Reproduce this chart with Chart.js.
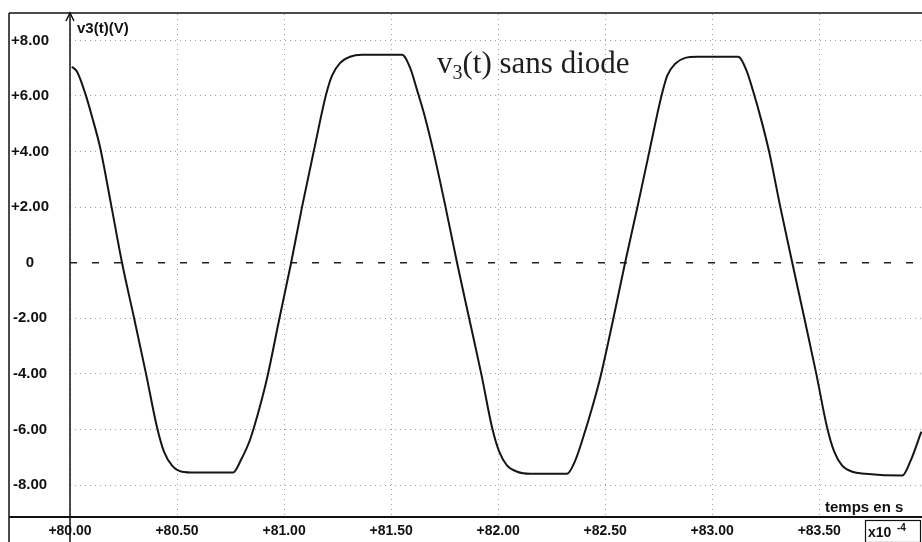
<!DOCTYPE html>
<html><head><meta charset="utf-8">
<script src="https://cdn.jsdelivr.net/npm/chart.js@4/dist/chart.umd.min.js"></script>
<style>html,body{margin:0;padding:0;background:#fff;overflow:hidden}</style>
</head><body>
<canvas id="c" width="922" height="542"></canvas>
<script>
// time in units of 1e-4 s
const timeValues = [
  80.009, 80.033, 80.070, 80.107, 80.140, 80.192, 80.243, 80.299, 80.355, 80.407, 80.439, 80.477, 80.523, 80.584, 80.762,
  80.799, 80.841, 80.883, 80.921, 80.977, 81.033, 81.084, 81.140, 81.196, 81.224, 81.262, 81.308, 81.364, 81.551,
  81.589, 81.621, 81.659, 81.696, 81.752, 81.808, 81.864, 81.921, 81.972, 82.005, 82.042, 82.089, 82.150, 82.322,
  82.360, 82.397, 82.439, 82.477, 82.537, 82.593, 82.650, 82.706, 82.762, 82.790, 82.827, 82.874, 82.930, 83.121,
  83.159, 83.192, 83.229, 83.266, 83.318, 83.374, 83.430, 83.486, 83.537, 83.570, 83.607, 83.654, 83.715, 83.888,
  83.925, 83.977
];
// v3(t) in volts
const voltValues = [
  7.05, 6.87, 6.12, 5.14, 4.17, 2.09, 0, -1.98, -3.99, -5.94, -6.80, -7.30, -7.52, -7.55, -7.55,
  -7.09, -6.37, -5.29, -4.14, -2.05, 0, 2.01, 4.06, 6.04, 6.73, 7.19, 7.41, 7.48, 7.48,
  7.01, 6.22, 5.22, 4.06, 2.09, 0, -1.98, -3.99, -5.94, -6.80, -7.30, -7.52, -7.59, -7.59,
  -7.12, -6.29, -5.22, -4.14, -2.05, 0, 1.98, 3.99, 5.97, 6.73, 7.16, 7.37, 7.41, 7.41,
  6.94, 6.15, 5.14, 3.99, 2.01, 0, -1.98, -3.99, -5.94, -6.80, -7.30, -7.52, -7.59, -7.66,
  -7.16, -6.08
];

const xTickValues = [80, 80.5, 81, 81.5, 82, 82.5, 83, 83.5];
const xTickLabels = ['+80.00', '+80.50', '+81.00', '+81.50', '+82.00', '+82.50', '+83.00', '+83.50'];
const yTickValues = [-8, -6, -4, -2, 0, 2, 4, 6, 8];
const yTickLabels = ['-8.00', '-6.00', '-4.00', '-2.00', '0', '+2.00', '+4.00', '+6.00', '+8.00'];

const xMin = 80, xMax = 83.98, yMin = -9.15, yMax = 8.95;

const points = timeValues.map((t, i) => ({x: t, y: voltValues[i]}));

const labelFont = "'Liberation Sans', Arial, sans-serif";

function findLabel(values, labels, v) {
  const i = values.findIndex(a => Math.abs(a - v) < 1e-6);
  return i >= 0 ? labels[i] : '';
}

const decor = {
  id: 'decor',
  afterDraw(chart) {
    const ctx = chart.ctx;
    const a = chart.chartArea;
    const x0 = chart.scales.x.getPixelForValue(xMin);
    ctx.save();
    ctx.strokeStyle = '#111';
    ctx.lineWidth = 1.5;
    ctx.beginPath();
    ctx.moveTo(9, 13); ctx.lineTo(922, 13);
    ctx.moveTo(9, 13); ctx.lineTo(9, 542);
    ctx.stroke();
    ctx.lineWidth = 2;
    ctx.beginPath();
    ctx.moveTo(9, a.bottom); ctx.lineTo(922, a.bottom);
    ctx.stroke();
    ctx.lineWidth = 1.5;
    ctx.beginPath();
    ctx.moveTo(x0, 13); ctx.lineTo(x0, 542);
    ctx.stroke();
    ctx.beginPath();
    ctx.moveTo(x0 - 4, 21); ctx.lineTo(x0, 13); ctx.lineTo(x0 + 4, 21);
    ctx.stroke();

    ctx.fillStyle = '#111';
    ctx.textBaseline = 'alphabetic';
    ctx.textAlign = 'left';
    ctx.font = "bold 15px " + labelFont;
    ctx.fillText('v3(t)(V)', 77, 33);
    ctx.fillText('temps en s', 825, 512);

    // x10^-4 box
    ctx.lineWidth = 1.2;
    ctx.strokeRect(865.5, 520.5, 55, 22);
    ctx.font = "bold 14px " + labelFont;
    ctx.fillText('x10', 868, 537);
    ctx.font = "bold 10px " + labelFont;
    ctx.fillText('-4', 897, 531);

    // title
    ctx.fillStyle = '#1e1e1e';
    ctx.font = "31px 'Liberation Serif', 'Times New Roman', serif";
    let x = 437;
    const base = 73;
    ctx.fillText('v', x, base);
    x += ctx.measureText('v').width;
    ctx.font = "20px 'Liberation Serif', 'Times New Roman', serif";
    ctx.fillText('3', x, base + 6);
    x += ctx.measureText('3').width;
    ctx.font = "31px 'Liberation Serif', 'Times New Roman', serif";
    ctx.fillText('(t) sans diode', x, base);
    ctx.restore();
  }
};

new Chart(document.getElementById('c'), {
  type: 'scatter',
  data: {
    datasets: [{
      data: points,
      showLine: true,
      borderColor: '#151515',
      borderWidth: 2,
      pointRadius: 0,
      cubicInterpolationMode: 'monotone',
      fill: false
    }]
  },
  options: {
    responsive: false,
    animation: false,
    devicePixelRatio: 1,
    layout: {padding: {top: 14, left: 0, right: 0, bottom: 0}},
    plugins: {legend: {display: false}, tooltip: {enabled: false}, title: {display: false}},
    scales: {
      x: {
        type: 'linear', min: xMin, max: xMax,
        afterBuildTicks(s) { s.ticks = xTickValues.map(v => ({value: v})); },
        afterFit(s) { s.height = 25; s.paddingLeft = 0; s.paddingRight = 0; },
        border: {display: false, dash: [1, 4]},
        grid: {drawTicks: false, color: '#a0a0a0', lineWidth: 1},
        ticks: {
          autoSkip: false, maxRotation: 0, padding: 6, color: '#111',
          font: {family: labelFont, size: 14, weight: 'bold'},
          callback: v => findLabel(xTickValues, xTickLabels, v)
        }
      },
      y: {
        type: 'linear', min: yMin, max: yMax,
        afterBuildTicks(s) { s.ticks = yTickValues.map(v => ({value: v})); },
        afterFit(s) { s.width = 70; s.paddingTop = 0; s.paddingBottom = 0; },
        border: {display: false, dash: ctx => (ctx.tick && ctx.tick.value === 0) ? [7, 15] : [1, 4]},
        grid: {
          drawTicks: false,
          color: ctx => (ctx.tick && ctx.tick.value === 0) ? '#222' : '#a0a0a0',
          lineWidth: ctx => (ctx.tick && ctx.tick.value === 0) ? 1.5 : 1
        },
        ticks: {
          crossAlign: 'center', padding: 21, color: '#111',
          font: {family: labelFont, size: 15, weight: 'bold'},
          callback: v => findLabel(yTickValues, yTickLabels, v)
        }
      }
    }
  },
  plugins: [decor]
});
</script>
</body></html>
